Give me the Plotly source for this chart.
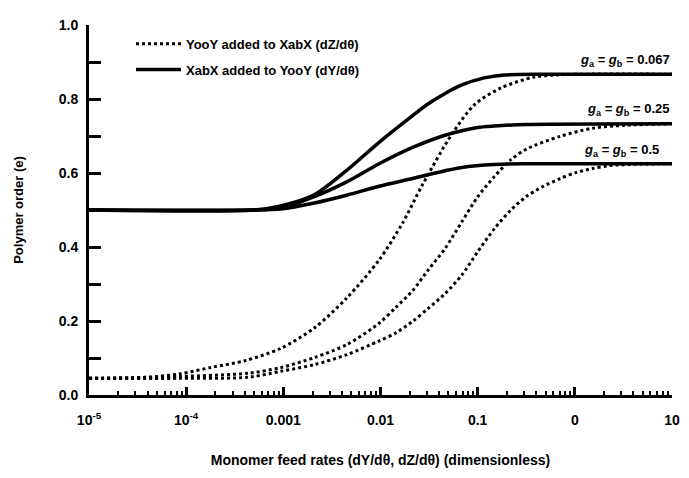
import plotly.graph_objects as go

# ---- data ----
# Solid curves: XabX added to YooY (dY/dθ)
solid_067_x = [1e-5, 5e-4, 9.4e-4, 2.08e-3, 4.49e-3, 9.68e-3, 0.0214, 0.031, 0.0462, 0.0686, 0.117, 0.187, 0.5, 10]
solid_067_y = [0.5, 0.5, 0.511, 0.541, 0.607, 0.683, 0.755, 0.787, 0.815, 0.838, 0.857, 0.865, 0.867, 0.867]

solid_025_x = [1e-5, 5e-4, 9.4e-4, 2.08e-3, 4.49e-3, 9.68e-3, 0.0214, 0.0462, 0.0995, 0.148, 0.319, 10]
solid_025_y = [0.5, 0.5, 0.505, 0.536, 0.576, 0.625, 0.669, 0.702, 0.723, 0.727, 0.731, 0.733]

solid_05_x = [1e-5, 5e-4, 9.4e-4, 2.08e-3, 4.49e-3, 9.68e-3, 0.0214, 0.0462, 0.0686, 0.148, 0.3, 10]
solid_05_y = [0.5, 0.5, 0.503, 0.519, 0.54, 0.564, 0.585, 0.606, 0.615, 0.623, 0.625, 0.625]

# Dotted curves: YooY added to XabX (dZ/dθ)
dot_067_x = [1e-5, 4e-5, 8.5e-5, 1.84e-4, 4.06e-4, 9.4e-4, 2.08e-3, 4.49e-3, 9.68e-3, 0.0169, 0.027,
             0.0543, 0.0929, 0.174, 0.376, 0.811, 10]
dot_067_y = [0.045, 0.048, 0.057, 0.075, 0.093, 0.126, 0.181, 0.262, 0.365, 0.465, 0.568,
             0.705, 0.785, 0.830, 0.859, 0.866, 0.867]

dot_025_x = [1e-5, 8.5e-5, 4.37e-4, 9.4e-4, 2.08e-3, 4.49e-3, 9.68e-3, 0.0144, 0.0214, 0.031, 0.0462,
             0.0686, 0.0995, 0.148, 0.22, 0.319, 0.705, 1.52, 3.28, 10]
dot_025_y = [0.045, 0.05, 0.059, 0.074, 0.101, 0.136, 0.194, 0.237, 0.282, 0.338, 0.396,
             0.468, 0.535, 0.590, 0.636, 0.665, 0.699, 0.721, 0.729, 0.733]

dot_05_x = [1e-5, 8.5e-5, 4.37e-4, 9.4e-4, 2.08e-3, 4.49e-3, 9.68e-3, 0.0144, 0.0214, 0.031, 0.0462,
            0.0686, 0.0995, 0.148, 0.22, 0.319, 0.474, 0.705, 1.02, 1.52, 2.26, 4.88, 10]
dot_05_y = [0.045, 0.045, 0.048, 0.064, 0.082, 0.109, 0.146, 0.168, 0.199, 0.234, 0.274,
            0.324, 0.386, 0.449, 0.5, 0.537, 0.564, 0.585, 0.601, 0.612, 0.620, 0.624, 0.625]

x_tickvals = [1e-5, 1e-4, 1e-3, 1e-2, 0.1, 1, 10]
x_ticktext = ["10<sup>-5</sup>", "10<sup>-4</sup>", "0.001", "0.01", "0.1", "0", "10"]
y_tickvals = [0.0, 0.2, 0.4, 0.6, 0.8, 1.0]
y_ticktext = ["0.0", "0.2", "0.4", "0.6", "0.8", "1.0"]

curve_labels = ["<i>g</i><sub>a</sub> = <i>g</i><sub>b</sub> = 0.067",
                "<i>g</i><sub>a</sub> = <i>g</i><sub>b</sub> = 0.25",
                "<i>g</i><sub>a</sub> = <i>g</i><sub>b</sub> = 0.5"]
label_y = [0.905, 0.772, 0.662]
label_xlog = [1.0, 0.99, 0.89]

legend_dotted = "YooY added to XabX (dZ/dθ)"
legend_solid = "XabX added to YooY (dY/dθ)"

FONT = "Liberation Sans"

fig = go.Figure()

dotted = [(dot_067_x, dot_067_y), (dot_025_x, dot_025_y), (dot_05_x, dot_05_y)]
for i, (xs, ys) in enumerate(dotted):
    fig.add_trace(go.Scatter(
        x=xs, y=ys, mode="lines", name=legend_dotted,
        legendgroup="dotted", showlegend=(i == 0),
        line=dict(color="black", width=3, dash="dot", shape="spline", smoothing=0.8),
    ))

solid = [(solid_067_x, solid_067_y), (solid_025_x, solid_025_y), (solid_05_x, solid_05_y)]
for i, (xs, ys) in enumerate(solid):
    fig.add_trace(go.Scatter(
        x=xs, y=ys, mode="lines", name=legend_solid,
        legendgroup="solid", showlegend=(i == 0),
        line=dict(color="black", width=3.5, shape="spline", smoothing=0.8),
    ))

for txt, yv, xl in zip(curve_labels, label_y, label_xlog):
    fig.add_annotation(x=xl, y=yv, xref="x", yref="y", text=txt, showarrow=False,
                       xanchor="right", yanchor="middle",
                       font=dict(family=FONT, size=13, color="black", weight="bold"))

minor_x = [m * 10.0 ** e for e in range(-5, 1) for m in range(2, 10)]

fig.update_xaxes(
    type="log", range=[-5, 1],
    tickvals=x_tickvals, ticktext=x_ticktext,
    ticks="inside", ticklen=8, tickwidth=2.5, tickcolor="black",
    minor=dict(tickvals=minor_x, ticks="inside", ticklen=4, tickwidth=2, tickcolor="black", showgrid=False),
    showline=True, linewidth=3, linecolor="black", mirror=False,
    showgrid=False, zeroline=False,
    ticklabelstandoff=10,
    tickfont=dict(family=FONT, size=14, color="black", weight="bold"),
    title=dict(text="Monomer feed rates (dY/dθ, dZ/dθ) (dimensionless)",
               font=dict(family=FONT, size=14, color="black", weight="bold"), standoff=29),
)
fig.update_yaxes(
    range=[0, 1.0],
    tickvals=y_tickvals, ticktext=y_ticktext,
    ticks="inside", ticklen=12, tickwidth=2.5, tickcolor="black",
    minor=dict(dtick=0.1, ticks="inside", ticklen=12, tickwidth=2.5, tickcolor="black", showgrid=False),
    showline=True, linewidth=3, linecolor="black",
    showgrid=False, zeroline=False,
    ticklabelstandoff=5,
    tickfont=dict(family=FONT, size=14, color="black", weight="bold"),
    title=dict(text="Polymer order (e)",
               font=dict(family=FONT, size=13, color="black", weight="bold"), standoff=33),
)

# page body adds an 8px offset, so the figure is 8px smaller and shifted
fig.update_layout(
    width=681, height=470,
    margin=dict(l=80, r=9, t=11, b=83),
    paper_bgcolor="white", plot_bgcolor="white",
    showlegend=True,
    legend=dict(x=0.072, y=0.99, xanchor="left", yanchor="top",
                bgcolor="rgba(0,0,0,0)", itemwidth=45, tracegroupgap=6,
                font=dict(family=FONT, size=13, color="black", weight="bold")),
)

fig.write_html("out.html")
